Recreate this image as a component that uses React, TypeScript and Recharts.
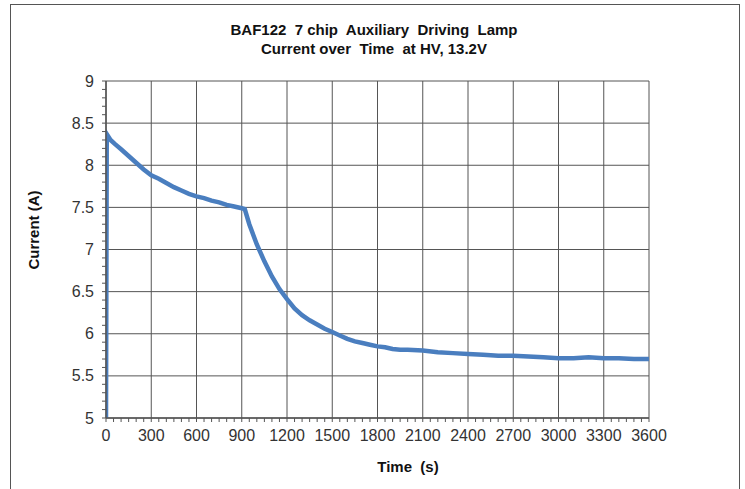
import React from "react";
import { LineChart, Line, XAxis, YAxis, CartesianGrid } from "recharts";

// time (s) and current (A)
const TIME = [
  0, 5, 30, 60, 100, 150, 200, 250, 300, 350, 400, 450, 500, 550, 600, 650,
  700, 750, 800, 850, 900, 920, 950, 1000, 1050, 1100, 1150, 1200, 1250, 1300,
  1350, 1400, 1450, 1500, 1550, 1600, 1650, 1700, 1750, 1800, 1850, 1900,
  1950, 2000, 2100, 2200, 2300, 2400, 2500, 2600, 2700, 2800, 2900, 3000,
  3100, 3200, 3300, 3400, 3500, 3600,
];
const CURRENT = [
  5.0, 8.37, 8.3, 8.25, 8.19, 8.11, 8.03, 7.95, 7.88, 7.84, 7.79, 7.74, 7.7,
  7.66, 7.63, 7.61, 7.58, 7.56, 7.53, 7.51, 7.49, 7.48, 7.3, 7.06, 6.86, 6.68,
  6.53, 6.41, 6.3, 6.22, 6.16, 6.11, 6.06, 6.02, 5.98, 5.94, 5.91, 5.89, 5.87,
  5.85, 5.84, 5.82, 5.81, 5.81, 5.8, 5.78, 5.77, 5.76, 5.75, 5.74, 5.74, 5.73,
  5.72, 5.71, 5.71, 5.72, 5.71, 5.71, 5.7, 5.7,
];

const X_LABELS = [0, 300, 600, 900, 1200, 1500, 1800, 2100, 2400, 2700, 3000, 3300, 3600];
const Y_LABELS = [5, 5.5, 6, 6.5, 7, 7.5, 8, 8.5, 9];

const X_MINOR: number[] = [];
for (let t = 0; t <= 3600; t += 50) X_MINOR.push(t);
const Y_MINOR: number[] = [];
for (let i = 50; i <= 90; i++) Y_MINOR.push(i / 10);

const data = TIME.map((t, i) => ({ t, a: CURRENT[i] }));

const FONT = "Arial, 'Liberation Sans', sans-serif";
const GRID = "#555";

function YTick(props: any) {
  const { x, y, payload } = props;
  if (!Y_LABELS.some((v) => Math.abs(v - payload.value) < 1e-6)) return <g />;
  return (
    <text x={x} y={y} dy="0.35em" textAnchor="end" fontSize={16} fill="#333" fontFamily={FONT}>
      {payload.value}
    </text>
  );
}

function XTick(props: any) {
  const { x, y, payload } = props;
  if (!X_LABELS.includes(payload.value)) return <g />;
  return (
    <text x={x} y={y} dy="0.71em" textAnchor="middle" fontSize={16} fill="#333" fontFamily={FONT}>
      {payload.value}
    </text>
  );
}

export default function App() {
  return (
    <div style={{ position: "absolute", left: 0, top: 0, width: 745, height: 489, background: "#fff", overflow: "hidden" }}>
      <div
        style={{
          position: "absolute",
          left: 10,
          top: 4,
          width: 730,
          height: 500,
          border: "1.5px solid #555",
          boxSizing: "border-box",
        }}
      />
      <div
        style={{
          position: "absolute",
          left: 0,
          top: 20,
          width: 748,
          textAlign: "center",
          fontFamily: FONT,
          fontWeight: "bold",
          fontSize: 15,
          lineHeight: "19px",
          color: "#111",
          whiteSpace: "pre",
        }}
      >
        {"BAF122  7 chip  Auxiliary  Driving  Lamp\nCurrent over  Time  at HV, 13.2V"}
      </div>
      <div
        style={{
          position: "absolute",
          left: 33,
          top: 230,
          transform: "translate(-50%, -50%) rotate(-90deg)",
          fontFamily: FONT,
          fontWeight: "bold",
          fontSize: 15,
          color: "#111",
          whiteSpace: "nowrap",
        }}
      >
        Current (A)
      </div>
      <div
        style={{
          position: "absolute",
          left: 408,
          top: 466,
          transform: "translate(-50%, -50%)",
          fontFamily: FONT,
          fontWeight: "bold",
          fontSize: 15,
          color: "#111",
          whiteSpace: "pre",
        }}
      >
        {"Time  (s)"}
      </div>
      <div style={{ position: "absolute", left: 0, top: 0 }}>
        <LineChart width={745} height={489} data={data} margin={{ top: 81, right: 96, bottom: 41, left: 0 }}>
          <CartesianGrid
            stroke={GRID}
            strokeWidth={1}
            horizontalValues={Y_LABELS}
            verticalValues={X_LABELS}
          />
          <XAxis
            dataKey="t"
            type="number"
            domain={[0, 3600]}
            ticks={X_MINOR}
            interval={0}
            height={30}
            tickSize={4}
            tickMargin={8}
            tick={<XTick />}
            axisLine={{ stroke: GRID, strokeWidth: 1.5 }}
            tickLine={{ stroke: GRID }}
            allowDataOverflow
          />
          <YAxis
            type="number"
            domain={[5, 9]}
            ticks={Y_MINOR}
            interval={0}
            width={106}
            tickSize={4}
            tickMargin={8}
            tick={<YTick />}
            axisLine={{ stroke: GRID, strokeWidth: 1.5 }}
            tickLine={{ stroke: GRID }}
            allowDataOverflow
          />
          <Line
            dataKey="a"
            type="linear"
            stroke="#4a7ebf"
            strokeWidth={4.5}
            dot={false}
            isAnimationActive={false}
          />
        </LineChart>
      </div>
    </div>
  );
}
